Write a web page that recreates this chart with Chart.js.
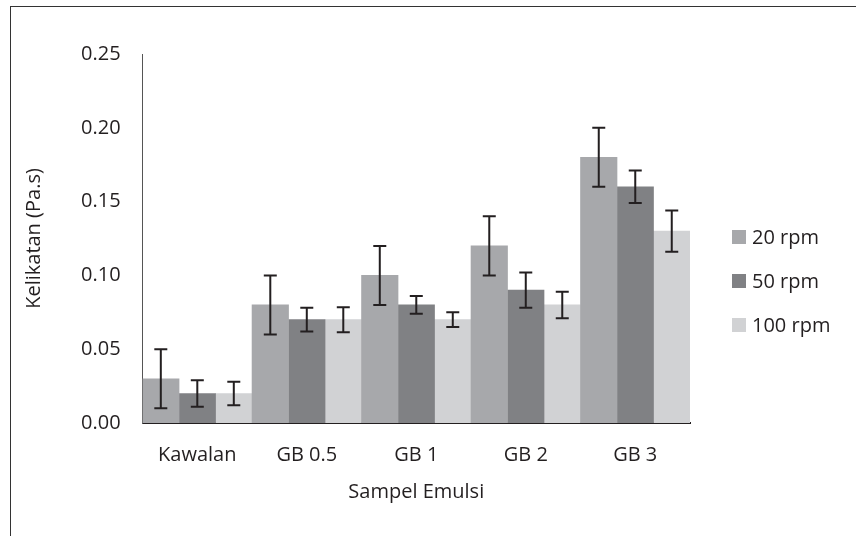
<!DOCTYPE html>
<html>
<head>
<meta charset="utf-8">
<script src="https://cdn.jsdelivr.net/npm/chart.js@4"></script>
<style>
    html, body { margin: 0; padding: 0; background: #fff; }
    #frame {
        position: absolute; left: 10px; top: 6px; width: 900px; height: 600px;
        border-left: 1px solid #333; border-top: 1px solid #333;
    }
    #wrap { position: absolute; left: 0; top: 0; width: 856px; height: 536px; }
    #legend {
        position: absolute; left: 732px; top: 225px;
        font-family: 'Open Sans', sans-serif; font-size: 20px; color: #231f20;
    }
    #legend div { height: 44px; line-height: 24px; display: flex; align-items: flex-start; }
    #legend span.box { display: inline-block; width: 14px; height: 14px; margin: 5px 6px 0 0; }
</style>
</head>
<body>
<div id="frame"></div>
<div id="wrap"><canvas id="viscosityChart"></canvas></div>
<div id="legend"></div>
<script>
// Data
const categories = ['Kawalan', 'GB 0.5', 'GB 1', 'GB 2', 'GB 3'];
const rpm20 = [0.03, 0.08, 0.10, 0.12, 0.18];
const rpm50 = [0.02, 0.07, 0.08, 0.09, 0.16];
const rpm100 = [0.02, 0.07, 0.07, 0.08, 0.13];
const err20 = [0.02, 0.02, 0.02, 0.02, 0.02];
const err50 = [0.009, 0.008, 0.006, 0.012, 0.011];
const err100 = [0.008, 0.0085, 0.005, 0.009, 0.014];
const yTicks = [0, 0.05, 0.10, 0.15, 0.20, 0.25];

const fontFamily = "'Open Sans', sans-serif";
const fontSize = 20;

// Plugin to draw error bars on top of each bar
const errorBarPlugin = {
    id: 'errorBars',
    afterDatasetsDraw(chart) {
        const ctx = chart.ctx;
        const yScale = chart.scales.y;
        chart.data.datasets.forEach((ds, i) => {
            const meta = chart.getDatasetMeta(i);
            meta.data.forEach((bar, j) => {
                const v = ds.data[j];
                const e = ds.errors[j];
                const top = yScale.getPixelForValue(v + e);
                const bottom = yScale.getPixelForValue(v - e);
                const x = bar.x;
                ctx.save();
                ctx.strokeStyle = '#231f20';
                ctx.lineWidth = 2;
                ctx.beginPath();
                ctx.moveTo(x, top);
                ctx.lineTo(x, bottom);
                ctx.moveTo(x - 6.5, top);
                ctx.lineTo(x + 6.5, top);
                ctx.moveTo(x - 6.5, bottom);
                ctx.lineTo(x + 6.5, bottom);
                ctx.stroke();
                ctx.restore();
            });
        });
    }
};

const ctx = document.getElementById('viscosityChart').getContext('2d');
const chart = new Chart(ctx, {
    type: 'bar',
    data: {
        labels: categories,
        datasets: [
            { label: '20 rpm', data: rpm20, errors: err20, backgroundColor: '#a7a8ab' },
            { label: '50 rpm', data: rpm50, errors: err50, backgroundColor: '#808184' },
            { label: '100 rpm', data: rpm100, errors: err100, backgroundColor: '#d1d2d4' }
        ]
    },
    options: {
        responsive: true,
        maintainAspectRatio: false,
        animation: false,
        devicePixelRatio: 1,
        layout: { padding: { left: 22, right: 166, top: 54, bottom: 32 } },
        datasets: {
            bar: { barPercentage: 1, categoryPercentage: 1 }
        },
        plugins: {
            tooltip: { enabled: false },
            legend: { display: false }
        },
        scales: {
            x: {
                grid: { display: false, drawTicks: false },
                border: { color: '#231f20', width: 2 },
                afterFit(axis) {
                    axis.height = 81;
                },
                ticks: {
                    padding: 20,
                    color: '#231f20',
                    font: { family: fontFamily, size: fontSize }
                },
                title: {
                    display: true,
                    text: 'Sampel Emulsi',
                    color: '#231f20',
                    padding: { top: 0, bottom: 0 },
                    font: { family: fontFamily, size: fontSize }
                }
            },
            y: {
                min: 0,
                max: 0.25,
                grid: { display: false, drawTicks: false },
                border: { color: '#555', width: 1 },
                afterBuildTicks(axis) {
                    axis.ticks = yTicks.map(v => ({ value: v }));
                },
                ticks: {
                    padding: 22,
                    color: '#231f20',
                    font: { family: fontFamily, size: fontSize },
                    callback: v => v.toFixed(2)
                },
                title: {
                    display: true,
                    text: 'Kelikatan (Pa.s)',
                    color: '#231f20',
                    padding: { top: 0, bottom: 13 },
                    font: { family: fontFamily, size: fontSize }
                }
            }
        }
    },
    plugins: [errorBarPlugin]
});

// Legend built from the datasets
const legendEl = document.getElementById('legend');
chart.data.datasets.forEach(ds => {
    const row = document.createElement('div');
    const box = document.createElement('span');
    box.className = 'box';
    box.style.background = ds.backgroundColor;
    row.appendChild(box);
    row.appendChild(document.createTextNode(ds.label));
    legendEl.appendChild(row);
});
</script>
</body>
</html>
